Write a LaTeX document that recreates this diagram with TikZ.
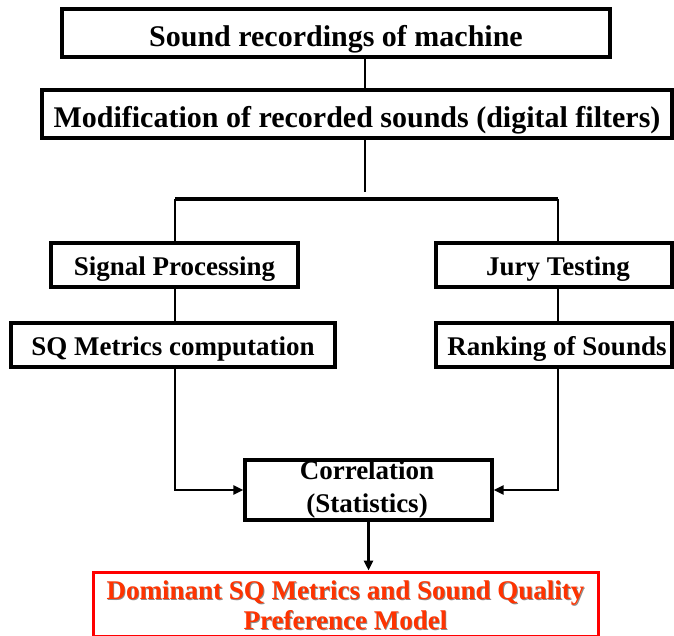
\documentclass[tikz,border=0pt]{standalone}
\usepackage{fontspec}
\setmainfont{Liberation Serif}
\usetikzlibrary{arrows.meta}
\definecolor{hotred}{RGB}{255,0,0}
\definecolor{flame}{RGB}{255,51,0}
\tikzset{
  box/.style={draw, line width=3.2pt, inner sep=0pt, fill=white},
  bigtxt/.style={font=\bfseries\fontsize{30}{33}\selectfont},
  smalltxt/.style={font=\bfseries\fontsize{27}{30}\selectfont},
  link/.style={line width=2.8pt},
  arrowlink/.style={line width=2.8pt, -{Triangle[length=10pt,width=9pt]}},
}
\begin{document}
\begin{tikzpicture}[x=1pt,y=-1pt]
\useasboundingbox (0,0) rectangle (674,636);

% process boxes
\node[box, minimum width=548pt, minimum height=48pt] (top) at (336,33) {};
\node[bigtxt] (toptxt) at (336,39) {Sound recordings of machine};

\node[box, minimum width=630pt, minimum height=48pt] (mod) at (357,114) {};
\node[bigtxt] (modtxt) at (357,120) {Modification of recorded sounds (digital filters)};

\node[box, minimum width=247pt, minimum height=44pt] (sig) at (174.5,265) {};
\node[smalltxt] (sigtxt) at (174.5,269) {Signal Processing};

\node[box, minimum width=236pt, minimum height=44pt] (jury) at (554,265) {};
\node[smalltxt] (jurytxt) at (558,269) {Jury Testing};

\node[box, minimum width=324pt, minimum height=44pt] (sqm) at (173,345) {};
\node[smalltxt] (sqmtxt) at (173,349) {SQ Metrics computation};

\node[box, minimum width=236pt, minimum height=44pt] (rank) at (554,345) {};
\node[smalltxt] (ranktxt) at (557,349) {Ranking of Sounds};

\node[box, minimum width=247pt, minimum height=60pt] (corr) at (368.5,490) {};
\node[smalltxt, align=center, font=\bfseries\fontsize{27}{33}\selectfont] (corrtxt) at (367,490) {Correlation\\(Statistics)};

% result box with shadowed lettering
\node[draw=hotred, line width=3pt, inner sep=0pt, minimum width=505pt, minimum height=64pt] (res) at (345.5,604) {};
\node[smalltxt, align=center, text=black!45] (resshadow) at (346.4,605.9) {Dominant SQ Metrics and Sound Quality\\Preference Model};
\node[smalltxt, align=center, text=flame] (restxt) at (345.5,605) {Dominant SQ Metrics and Sound Quality\\Preference Model};

% connectors
\coordinate (stemtop) at (365,57);
\coordinate (stemmid) at (365,192);
\coordinate (fl) at (175,199);
\coordinate (fr) at (558,199);

\draw[link] (top.south -| stemtop) -- (mod.north -| stemtop);
\draw[link] (mod.south -| stemmid) -- (stemmid);
\draw[line width=3.8pt] (fl) -- (fr);
\draw[link] (fl) -- (fl |- sig.north);
\draw[link] (fr) -- (fr |- jury.north);
\draw[link] (fl |- sig.south) -- (fl |- sqm.north);
\draw[link] (fr |- jury.south) -- (fr |- rank.north);
\draw[arrowlink] (fl |- sqm.south) |- (corr.west);
\draw[arrowlink] (fr |- rank.south) |- (corr.east);
\draw[arrowlink] (corr.south) -- (corr.south |- res.north);
\end{tikzpicture}
\end{document}
